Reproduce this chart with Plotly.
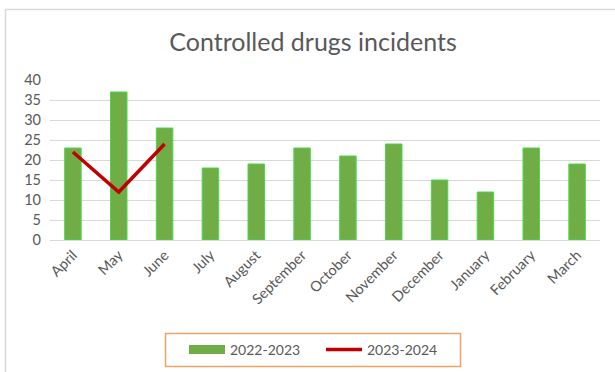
import plotly.graph_objects as go

months = ["April", "May", "June", "July", "August", "September", "October",
          "November", "December", "January", "February", "March"]
series_2022_2023 = [23, 37, 28, 18, 19, 23, 21, 24, 15, 12, 23, 19]
series_2023_2024 = [22, 12, 24]
y_ticks = [0, 5, 10, 15, 20, 25, 30, 35, 40]

W, H = 615, 372
ML, MR, MT, MB = 50, 15, 80, 132
pw, ph = W - ML - MR, H - MT - MB

def px_x(x):
    return (x - ML) / pw

def px_y(y):
    return 1 - (y - MT) / ph

fig = go.Figure()
fig.add_trace(go.Bar(
    x=months, y=series_2022_2023, name="2022-2023", showlegend=False,
    marker=dict(color="#70AD47", line=dict(color="#4BD94B", width=1)),
))
# legend entry drawn as a wide green swatch
fig.add_trace(go.Scatter(
    x=[None], y=[None], name="2022-2023", mode="lines",
    line=dict(color="#70AD47", width=9),
))
fig.add_trace(go.Scatter(
    x=months[:len(series_2023_2024)], y=series_2023_2024, name="2023-2024",
    mode="lines", line=dict(color="#C00000", width=3.5),
))

fig.update_layout(
    width=W, height=H,
    margin=dict(l=ML, r=MR, t=MT, b=MB, autoexpand=False),
    paper_bgcolor="white", plot_bgcolor="white",
    font=dict(family="Lato", color="#595959", size=13),
    title=dict(text="Controlled drugs incidents", x=px_x(313), xanchor="center",
               xref="paper", y=1 - 42 / H, yanchor="middle",
               font=dict(size=25, color="#595959")),
    bargap=0.64,
    showlegend=True,
    legend=dict(orientation="h", x=px_x(184), xanchor="left",
                y=px_y(350), yanchor="middle",
                borderwidth=0, bgcolor="rgba(0,0,0,0)",
                font=dict(size=14, color="#595959"),
                itemwidth=36, entrywidth=86, entrywidthmode="pixels",
                tracegroupgap=0),
    xaxis=dict(showgrid=False, showline=True, linecolor="#D9D9D9",
               tickangle=-45, ticks="", tickfont=dict(size=14.5)),
    yaxis=dict(range=[0, 40], tickvals=y_ticks, showgrid=True,
               gridcolor="#D9D9D9", gridwidth=1, zeroline=False,
               ticks="", showline=False, tickfont=dict(size=14.5),
               ticklabelstandoff=8),
    shapes=[
        dict(type="line", xref="paper", yref="paper",
             x0=px_x(5.5), x1=px_x(620), y0=px_y(9.5), y1=px_y(9.5),
             line=dict(color="#D9D9D9", width=1.5)),
        dict(type="line", xref="paper", yref="paper",
             x0=px_x(5.5), x1=px_x(5.5), y0=px_y(9.5), y1=px_y(380),
             line=dict(color="#D9D9D9", width=1.5)),
        dict(type="rect", xref="paper", yref="paper",
             x0=px_x(165.5), x1=px_x(460.5), y0=px_y(333.5), y1=px_y(366.5),
             line=dict(color="#F0A366", width=1.5)),
    ],
)

fig.write_html("out.html")
